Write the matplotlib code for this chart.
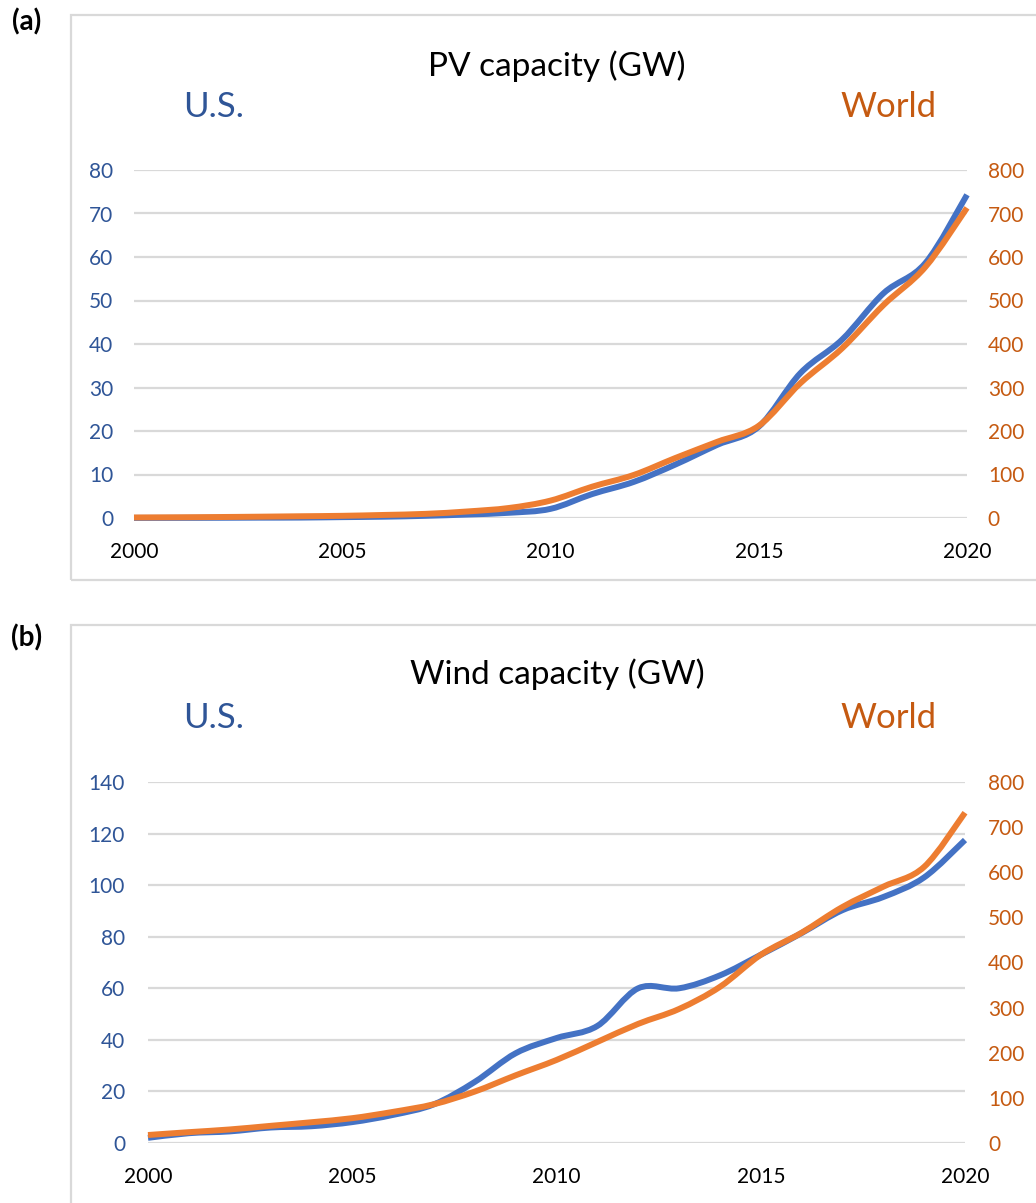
import matplotlib
matplotlib.use("Agg")
import matplotlib.pyplot as plt
import numpy as np
from matplotlib.path import Path
from matplotlib.patches import PathPatch, Rectangle

years = list(range(2000, 2021))

pv_us = [0.02, 0.03, 0.05, 0.08, 0.1, 0.2, 0.3, 0.5, 0.8, 1.2, 2.1,
         5.5, 8.3, 12.3, 16.8, 21.0, 33.3, 41.0, 51.7, 58.6, 74.3]
pv_world = [1.2, 1.6, 2.2, 3.0, 4.0, 5.0, 7.0, 9.5, 15, 23, 40,
            72, 99, 138, 175, 212, 310, 390, 490, 577, 713]

wind_us = [2.0, 3.8, 4.5, 6.0, 6.5, 8.1, 10.9, 15.0, 23.7, 34.8, 40.7,
           45.4, 60.0, 60.0, 65.0, 73.0, 81.4, 90.3, 95.4, 103.0, 117.5]
wind_world = [17.7, 24, 30, 38, 46, 55, 69, 86, 114, 150, 184,
              224, 264, 297, 346, 417, 466, 523, 568, 612, 732]

pv_left_ticks = [0, 10, 20, 30, 40, 50, 60, 70, 80]
pv_right_ticks = [0, 100, 200, 300, 400, 500, 600, 700, 800]
wind_left_ticks = [0, 20, 40, 60, 80, 100, 120, 140]
wind_right_ticks = [0, 100, 200, 300, 400, 500, 600, 700, 800]
x_ticks = [2000, 2005, 2010, 2015, 2020]

BLUE = "#4472C4"
ORANGE = "#ED7D31"
BLUE_TXT = "#2F5597"
ORANGE_TXT = "#C55A11"
GRID = "#D9D9D9"
FONT = ["Lato", "DejaVu Sans"]

plt.rcParams["font.family"] = FONT

W, H = 1036, 1203
fig = plt.figure(figsize=(W / 100, H / 100), dpi=100)


def fx(x):
    return x / W


def fy(y):
    return 1 - y / H


def smooth_path(xs, ys):
    xs = np.asarray(xs, float)
    ys = np.asarray(ys, float)
    pts = np.column_stack([xs, ys])
    n = len(pts)
    verts = [pts[0]]
    codes = [Path.MOVETO]
    for i in range(n - 1):
        p0 = pts[i - 1] if i > 0 else pts[i]
        p1 = pts[i]
        p2 = pts[i + 1]
        p3 = pts[i + 2] if i + 2 < n else pts[i + 1]
        c1 = p1 + (p2 - p0) / 6.0
        c2 = p2 - (p3 - p1) / 6.0
        verts += [c1, c2, p2]
        codes += [Path.CURVE4] * 3
    return Path(verts, codes)


def panel(px_left, px_right, px_top, px_bottom, us, world, lticks, rticks,
          title, title_y, label_y, tick_pad_l, tick_pad_r, box, tag, tag_y):
    ax = fig.add_axes([fx(px_left), fy(px_bottom),
                       (px_right - px_left) / W, (px_bottom - px_top) / H])
    ax2 = ax.twinx()
    ax.set_xlim(2000, 2020)
    ax.set_ylim(lticks[0], lticks[-1])
    ax2.set_ylim(rticks[0], rticks[-1])
    for a in (ax, ax2):
        for s in a.spines.values():
            s.set_visible(False)
        a.patch.set_visible(False)
    ax.set_yticks(lticks)
    ax2.set_yticks(rticks)
    ax.set_xticks(x_ticks)
    ax.grid(axis="y", color=GRID, lw=1.6)
    ax.set_axisbelow(True)
    ax.tick_params(axis="both", length=0)
    ax2.tick_params(axis="both", length=0)
    ax.tick_params(axis="y", labelcolor=BLUE_TXT, labelsize=15, pad=tick_pad_l)
    ax.tick_params(axis="x", labelcolor="black", labelsize=15, pad=17)
    ax2.tick_params(axis="y", labelcolor=ORANGE_TXT, labelsize=15, pad=tick_pad_r)

    p1 = PathPatch(smooth_path(years, us), fill=False, edgecolor=BLUE, lw=4.3,
                   capstyle="butt", joinstyle="round", transform=ax.transData,
                   clip_on=False, zorder=3)
    ax.add_patch(p1)
    p2 = PathPatch(smooth_path(years, world), fill=False, edgecolor=ORANGE, lw=4.3,
                   capstyle="butt", joinstyle="round", transform=ax2.transData,
                   clip_on=False, zorder=4)
    ax2.add_patch(p2)

    fig.text(fx(557), fy(title_y), title, ha="center", va="center",
             fontsize=24, color="black")
    fig.text(fx(214), fy(label_y), "U.S.", ha="center", va="center",
             fontsize=25, color=BLUE_TXT)
    fig.text(fx(889), fy(label_y), "World", ha="center", va="center",
             fontsize=25, color=ORANGE_TXT)

    bx0, by0, bx1, by1 = box
    fig.patches.append(Rectangle((fx(bx0), fy(by1)), (bx1 - bx0) / W, (by1 - by0) / H,
                                 transform=fig.transFigure, fill=False,
                                 edgecolor=GRID, lw=1.6, figure=fig))
    fig.text(fx(27), fy(tag_y), tag, ha="center", va="center",
             fontsize=20, fontweight="bold", color="black")
    return ax, ax2


panel(134, 967, 170, 518, pv_us, pv_world, pv_left_ticks, pv_right_ticks,
      "PV capacity (GW)", 66, 107, 15, 15, (71, 15, 1050, 580), "(a)", 22)
panel(148, 965, 782, 1143, wind_us, wind_world, wind_left_ticks, wind_right_ticks,
      "Wind capacity (GW)", 674, 718, 16.5, 16.5, (71, 625, 1050, 1220), "(b)", 638)

fig.savefig("out.png", dpi=100, facecolor="white")
